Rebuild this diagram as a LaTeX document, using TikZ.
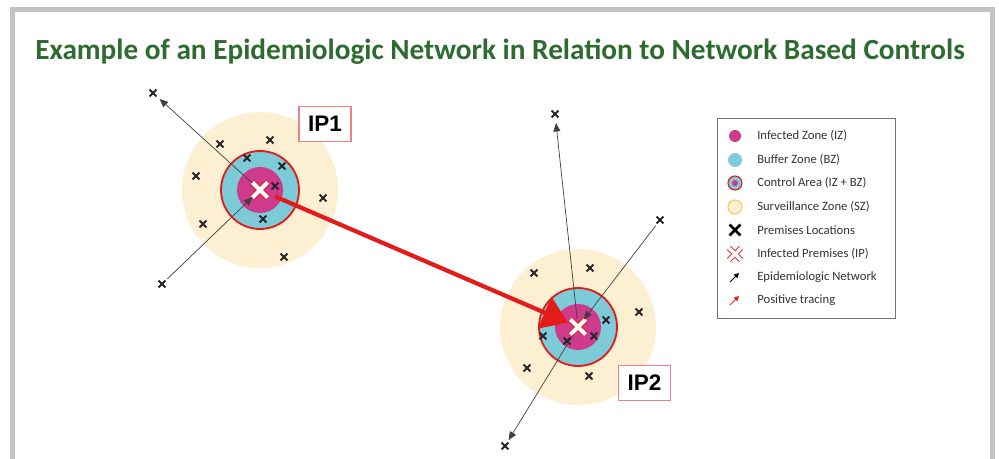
\documentclass[tikz,border=0pt]{standalone}
\usepackage{fontspec}
\setmainfont{Carlito}
\newfontfamily\labelfont{Liberation Sans}
\usetikzlibrary{arrows.meta,shapes.misc}

\definecolor{titlegreen}{HTML}{2E6B30}
\definecolor{szyellow}{HTML}{FCEFD2}
\definecolor{szline}{HTML}{F3C766}
\definecolor{bzcyan}{HTML}{7DCBD9}
\definecolor{izmagenta}{HTML}{CE3A8C}
\definecolor{ipred}{HTML}{E31B1B}
\definecolor{framegray}{HTML}{C3C3C3}

\tikzset{
    prem/.style={cross out,draw=black!85,line width=1.3pt,minimum size=3.6pt,inner sep=0pt},
    ipcross/.style={cross out,draw=ipred,double=white,double distance=3pt,line width=0.7pt,minimum size=10pt,inner sep=0pt},
    net/.style={draw=black!75,line width=0.5pt,-{Triangle[length=6pt,width=5pt]}},
    trace/.style={draw=ipred,line width=3pt,-{Triangle[length=18pt,width=24pt]}},
    iplabel/.style={draw=ipred!55,line width=0.8pt,fill=white,font=\labelfont\fontsize{16}{18}\selectfont\bfseries,minimum width=37pt,minimum height=25pt,inner sep=0pt},
    legtext/.style={anchor=west,font=\fontsize{9}{11}\selectfont,text=black!80,inner sep=0pt}
}

\begin{document}
\begin{tikzpicture}[x=0.025cm,y=-0.025cm]
    \useasboundingbox (0,0) rectangle (999,459);
    \draw[framegray,line width=3.5pt] (12.5,470) -- (12.5,9.5) -- (992.5,9.5) -- (992.5,470);
    \node[font=\fontsize{20.8}{24}\selectfont\bfseries,text=titlegreen] (title) at (500,52)
        {Example of an Epidemiologic Network in Relation to Network Based Controls};

    % zones
    \coordinate (c1) at (260,190);
    \coordinate (c2) at (578,327);
    \foreach \c in {c1,c2} {
        \fill[szyellow] (\c) circle (78);
        \filldraw[fill=bzcyan,draw=ipred,line width=1.3pt] (\c) circle (39);
        \fill[izmagenta] (\c) circle (23);
    }

    % premises around IP1
    \node[prem] (p1a) at (153,93) {};
    \node[prem] (p1b) at (220,144) {};
    \node[prem] (p1c) at (270,140) {};
    \node[prem] (p1d) at (196,176) {};
    \node[prem] (p1e) at (247,158) {};
    \node[prem] (p1f) at (282,166) {};
    \node[prem] (p1g) at (275,186) {};
    \node[prem] (p1h) at (323,198) {};
    \node[prem] (p1i) at (203,224) {};
    \node[prem] (p1j) at (263,219) {};
    \node[prem] (p1k) at (284,257) {};
    \node[prem] (p1l) at (162,284) {};

    % premises around IP2
    \node[prem] (p2a) at (555,114) {};
    \node[prem] (p2b) at (660,220) {};
    \node[prem] (p2c) at (534,273) {};
    \node[prem] (p2d) at (590,268) {};
    \node[prem] (p2e) at (639,312) {};
    \node[prem] (p2f) at (606,320) {};
    \node[prem] (p2g) at (543,336) {};
    \node[prem] (p2h) at (567,341) {};
    \node[prem] (p2i) at (594,336) {};
    \node[prem] (p2j) at (527,368) {};
    \node[prem] (p2k) at (589,376) {};
    \node[prem] (p2l) at (505,446) {};

    \node[ipcross] (ip1) at (c1) {};
    \node[ipcross] (ip2) at (c2) {};

    % network
    \draw[net,shorten >=3pt] (ip1) -- (p1a);
    \draw[net,shorten <=2pt] (p1l) -- (ip1);
    \draw[net,shorten >=4pt] (ip2) -- (p2a);
    \draw[net,shorten <=2pt] (p2b) -- (ip2);
    \draw[net,shorten >=2pt] (ip2) -- (p2l);
    \draw[trace,shorten <=6pt,shorten >=2pt] (ip1) -- (ip2);

    \node[iplabel] (lab1) at (325,124) {IP1};
    \node[iplabel] (lab2) at (644.5,383) {IP2};

    % legend
    \draw[black!55,line width=0.6pt] (717,118) rectangle (895,318);
    \fill[izmagenta] (735,136) circle (6);
    \fill[bzcyan] (735,160) circle (7);
    \filldraw[fill=bzcyan,draw=ipred,line width=0.8pt] (735,183) circle (7);
    \fill[izmagenta] (735,183) circle (3);
    \filldraw[fill=szyellow,draw=szline,line width=0.8pt] (735,207) circle (7);
    \node[cross out,draw=black,line width=1.8pt,minimum size=6pt,inner sep=0pt] (legprem) at (735,230) {};
    \node[cross out,draw=ipred,double=white,double distance=2.6pt,line width=0.6pt,minimum size=8pt,inner sep=0pt] (legip) at (735,254) {};
    \coordinate (na) at (730,282);
    \coordinate (nb) at (739,273);
    \coordinate (ta) at (730,305);
    \coordinate (tb) at (739,296);
    \draw[black,line width=0.7pt,-{Triangle[length=3.5pt,width=3.5pt]}] (na) -- (nb);
    \draw[ipred,line width=0.7pt,-{Triangle[length=3.5pt,width=3.5pt]}] (ta) -- (tb);

    \node[legtext] (l1) at (757,136) {Infected Zone (IZ)};
    \node[legtext] (l2) at (757,160) {Buffer Zone (BZ)};
    \node[legtext] (l3) at (757,183) {Control Area (IZ + BZ)};
    \node[legtext] (l4) at (757,207) {Surveillance Zone (SZ)};
    \node[legtext] (l5) at (757,230) {Premises Locations};
    \node[legtext] (l6) at (757,254) {Infected Premises (IP)};
    \node[legtext] (l7) at (757,277) {Epidemiologic Network};
    \node[legtext] (l8) at (757,300) {Positive tracing};
\end{tikzpicture}
\end{document}
